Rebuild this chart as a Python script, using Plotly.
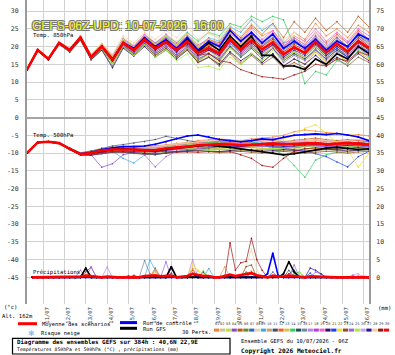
import plotly.graph_objects as go

# ---------------- data ----------------
hours12 = list(range(0, 385, 12))          # temperatures, every 12 h from 10/07 06Z
hours6 = list(range(6, 385, 6))            # precipitation, every 6 h
day_hours = [18 + 24 * d for d in range(16)]
day_labels = ["%02d/07" % (11 + d) for d in range(16)]
left_ticks = list(range(-45, 31, 5))
right_ticks = list(range(0, 76, 5))

pert_colors = ['#f08030', '#d0c0a0', '#b8e040', '#8848c8', '#c05818', '#6a8a20', '#3068b8', '#e8d8b0', '#40a8e8', '#d0a060',
               '#405068', '#f06020', '#e0c040', '#30d060', '#205060', '#7088a0', '#c080f0', '#b040e0', '#f060d0', '#301070',
               '#2040f0', '#f0e020', '#905020', '#a060e0', '#a0f040', '#c0a8f0', '#3010a0', '#f0d0a0', '#a01010', '#e01010']

t850_mean = [13.5,19,16.5,21,19,22.5,17,20, 16.3,21,19,22,19.5,21.3,19,21.5, 18.2,19.5,18,22,19,21.8,19.2,21.2, 17.8,19.8,18.2,21.4,18.3,20.8,18.6,21.6,19.5]
t850_ctrl = [13.5,19,16.5,21,19,22.5,17,20, 16.5,21,19.5,22.5,20,22,19.5,22.5, 19,21.5,20,24.5,21.5,24,21,23.5, 19.5,21.5,19.5,22,19,21.5,20,23.5,22]
t850_gfs = [13.5,19,16.5,21,19,22.5,17,20, 16.3,21,19,22,19.5,21.5,19,22, 18.5,21,19,23,20,23,17.5,17.5, 14.5,14.5,13.5,16.5,15,18,16.5,20,18]
t850_perts = [
    [13.6,19.3,16.8,21.4,19.5,23,17.5,20.8, 17.5,22,20,23.5,21,22.5,20,22.8, 20,22,20.5,25,22,25.5,23,24.5, 21,24,22,26.5,23,25,22.5,26,24],
    [13.4,18.8,16.6,21.2,19.2,22.8,17.3,20.2, 16.8,21.5,19.6,22.6,20.5,22.3,20,22.8, 19.5,21,19.8,24,21,23.5,20.5,22, 18.5,21,19.5,23,19.8,22.5,20,23,21],
    [13.5,19.1,16.4,20.8,18.7,22.1,16.6,19.4, 15.5,20,18,20.5,17.5,19.5,17,19.5, 16,17.5,15.5,19.5,17,19.5,17.5,20, 16.5,18.5,17,20.5,17.5,19.5,17.5,20.5,18.5],
    [13.4,18.9,16.3,20.7,18.5,22,16.4,19.2, 15.6,20.3,18.2,21,18.5,20.5,18.5,21.5, 19,21,20,23.5,21.5,24,21,23.5, 20,22,20,23,20,22.5,20,23,21.5],
    [13.6,19.2,16.7,21.3,19.3,22.9,17.6,20.6, 17,22,20,23,20.5,22.5,20.5,23, 20,22,21,25,22.5,26,23.5,26.5, 22.5,27,24,28,24.5,27,24,28.5,25.5],
    [13.5,18.7,16.2,20.6,18.4,21.8,16.2,19, 14.5,19.8,17.5,20.5,17.5,19.5,17,19.5, 16,18,16.5,20,17.5,20,17.5,19.5, 16,18,16.5,19.5,16.5,19,17,20,18],
    [13.5,19,16.5,21,19.1,22.6,17.2,20.1, 16.5,21.5,19.5,22.5,19,21,18.5,21, 17.5,19,17,21.5,18,21,18.5,20.5, 17,19.5,18,21,18,20,18,21.5,19],
    [13.6,19.2,16.8,21.3,19.4,23,17.8,20.8, 17.5,22.5,20.5,23.5,21,23,21.5,24, 21,23.5,22.5,26.5,24.5,28,25,27.5, 22,24,21,23.5,19.5,22,19,22.5,20],
    [13.5,19.1,16.6,21.2,19.3,22.8,17.4,20.5, 17,22,20,23,20.5,22.8,20.5,23, 20,22.5,21.5,25.5,24,27.5,24.5,26.5, 21,22,19,21.5,18.5,21,18.5,22,19.5],
    [13.4,18.9,16.4,20.9,18.8,22.3,16.8,19.6, 15.8,20.5,18.2,21,18,20,17.5,19.5, 15.5,17,15,18.5,15.5,18,15.5,18, 14.5,16.5,15,18.5,15.5,18,15.5,18.5,16.5],
    [13.5,19,16.5,21.1,19.2,22.7,17.3,20.3, 16.8,21.5,19.5,22.8,20,22,19.5,22.5, 19,20.5,19,23,20,23,20.5,22.5, 19,21,19.5,22.5,19.5,22,20,23,21],
    [13.6,19.1,16.6,21.1,19,22.6,17,20, 16.2,21,19,22,19.5,21.5,19.5,22, 18.5,20.5,19,23,20.5,23.5,21,23.5, 20,22.5,20.5,24,21,23.5,21,24.5,22],
    [13.5,18.9,16.4,20.9,18.9,22.4,16.9,19.8, 16,20.5,18.5,21.5,18.5,20.5,18,20.5, 17,18.5,17,21,18,20.5,18,20, 16.5,18.5,17,20,17,19.5,17.5,20.5,18.5],
    [13.5,19,16.6,21.1,19.2,22.8,17.4,20.5, 17,22,20,23,21,23,21,24, 21.5,24,23,26.5,25.5,28.5,27,28.5, 27.5,20,9.5,13,12,16,15,19,17],
    [13.4,18.8,16.3,20.8,18.6,22.1,16.5,19.4, 15.3,20.2,18,21,18,20,17.5,20, 16.5,18,16,20,17,19.5,16.5,19.5, 16,18,16.5,19,16.5,19,17,20,18],
    [13.5,19,16.6,21.1,19.1,22.6,17.2,20.2, 16.7,21.4,19.4,22.5,19.5,21.5,19,22, 18.5,20,18.5,22.5,19.5,22.5,20,22.5, 19,21.5,19.5,22.5,19.5,22,20,23,20.5],
    [13.6,19.1,16.7,21.2,19.3,22.8,17.5,20.5, 16.8,21.8,19.8,23,20.5,22.5,20,23, 19.5,21.5,20,24,21,24,21.5,24, 20,22.5,20.5,24,20.5,23,21,24,22],
    [13.5,18.9,16.4,20.9,18.8,22.3,16.9,19.7, 15.8,20.5,18.5,21.5,18.5,20.5,18,20.5, 17,19,17.5,21,18,20.5,18,20.5, 16.5,18.5,17,20,17,19.5,17.5,20.5,18.5],
    [13.6,19.2,16.7,21.3,19.4,22.9,17.6,20.6, 17.2,22.2,20.2,23.3,21,23.5,21,23.5, 20.5,22,20.5,24.5,21.5,25,22,24.5, 20.5,23,21.5,25,21.5,24,21.5,25,23],
    [13.4,18.8,16.3,20.7,18.5,21.9,16.3,19, 14,19.5,17.3,20,17,19,16.5,19, 15.5,17,15,18.5,16,18,15.5,18, 14.5,16.5,15,17.5,15,17,15.5,18,16],
    [13.5,19,16.5,21,19,22.5,17.1,20, 16.3,21,19,22,19.5,21.5,19,21.5, 18,19.5,18,22,19,21.5,19,21, 17.5,19.5,18,21,17.5,19.5,17,20,18.5],
    [13.6,19.2,16.7,21.2,19.3,22.8,17.4,20.5, 17,22,20,23,20.5,23,20.5,23.5, 20,22,20,24,20.5,23,19.5,21.5, 17,18.5,16,18.5,15.5,18,15.5,18.5,16.5],
    [13.4,18.8,16.3,20.7,18.6,22,16.5,19.3, 15.4,20,17.6,20.5,17.5,19.5,17,19, 15.5,17,14.5,18,15,17.5,15,17, 14,15.5,14,16.5,14.5,16.5,14.5,17,15.5],
    [13.5,18.9,16.4,20.8,18.7,22.2,16.7,19.5, 15.5,20.3,18.2,21.2,18,20,17.5,20, 16.5,18,16.5,20.5,17.5,20,17,19.5, 15.5,17.5,16,19,16,18.5,16.5,19.5,17.5],
    [13.5,18.9,16.4,20.8,18.7,22.2,16.6,19.4, 15.3,20,17.5,20.5,17,19,16,18, 14,14.5,13.5,17,15,18,16,19, 16,18.5,17,20,17.5,20,18,21,19],
    [13.5,19,16.6,21.1,19.2,22.7,17.3,20.3, 16.8,21.6,19.5,22.6,20,22,19.5,22.5, 19,21,19,23,20,23,20.5,23, 19,21.5,19.5,22.5,19.5,22,19.5,22.5,20.5],
    [13.5,18.9,16.4,20.9,18.8,22.4,16.9,19.8, 16,20.7,18.6,21.6,19,21,18.5,21, 17.5,19,17.5,21.5,18.5,21,18.5,20.5, 17,19,17.5,20.5,17.5,20,18,21,19],
    [13.6,19.2,16.8,21.4,19.5,23.1,17.8,21, 17.8,23,21,24,22,24.5,22.5,25.5, 22,24,22,26,23,26.5,23.5,26, 21.5,23,21,24,20,23,20.5,23.5,21],
    [13.5,19,16.5,21,19,22.4,17,19.8, 16,20.8,18.8,21.5,19,21,19,20.5, 17.5,18,16,15.5,13.5,12.5,11.5,11.2, 10.8,12,13,15,14.5,16.5,16,18.5,17.5],
    [13.5,19,16.6,21.1,19.1,22.6,17.2,20.2, 16.6,21.3,19.3,22.3,20,21.8,19.5,22, 18.8,20,18.5,22.5,19.5,22.5,20,22, 18.5,20.5,19,22,19,21.5,19.5,22.5,20],
]

t500_mean = [-10,-7,-6.8,-7.2,-8.8,-10.3,-10,-9.3, -9,-8.9,-9,-9.2,-9.2,-8.7,-8.5,-8.2, -7.8,-7.6,-7.5,-7.6,-7.8,-7.7,-7.5,-7.3, -7.6,-7.5,-7.4,-7.2,-7.5,-7.3,-7.2,-7.4,-7.6]
t500_ctrl = [-10,-7,-6.8,-7.2,-8.8,-10.2,-9.8,-9, -8.5,-8.2,-8.2,-8,-7.5,-6.8,-6,-5.2, -4.9,-5.5,-6.2,-6.5,-6.8,-6.5,-6,-6.2, -5.5,-5,-4.8,-4.6,-4.8,-4.5,-4.9,-5.5,-6.5]
t500_gfs = [-10,-7,-6.8,-7.2,-8.8,-10.3,-10,-9.4, -9,-8.8,-9,-9.2,-9.4,-9,-8.6,-8.3, -8,-7.8,-8,-8.4,-8.8,-9.2,-9.5,-10, -10.5,-10.2,-9.6,-9,-8.6,-8.4,-8.8,-9,-8.8]
t500_perts = [
    [-10,-7,-6.8,-7.1,-8.7,-10.2,-9.8,-9, -8.5,-8.2,-8,-8.3,-8,-7.5,-7.2,-7, -6.5,-6.2,-6,-6.3,-6.5,-6,-5.8,-5.5, -5,-4,-3.5,-3.8,-4.2,-4.5,-5,-4.8,-5.2],
    [-10.1,-7.1,-6.9,-7.3,-8.9,-10.4,-10.3,-9.7, -9.4,-9.2,-9.5,-9.8,-9.6,-9.2,-9,-8.5, -8.2,-8,-8.3,-8.5,-8.2,-7.8,-7.5,-7.8, -8.2,-8,-7.6,-7.3,-7.8,-8,-7.5,-7.2,-7.6],
    [-9.9,-6.9,-6.7,-7.1,-8.6,-10,-9.5,-8.8, -8.3,-8,-8.2,-8.5,-8.8,-8.5,-8.8,-9, -9.2,-9,-8.6,-8.8,-9.2,-9.5,-9,-8.6, -8.8,-9.1,-8.8,-8.5,-8.7,-8.3,-8,-8.4,-8.8],
    [-10,-7,-6.8,-7.2,-8.9,-10.5,-10.5,-14, -13,-10.5,-9.8,-9.5,-9,-8.5,-8.3,-8, -7.5,-7.2,-7,-7.3,-7.8,-8,-7.6,-7.2, -7,-6.8,-7,-7.3,-7.5,-7,-6.8,-7.2,-7.5],
    [-10,-7,-6.7,-7.1,-8.7,-10.1,-9.7,-8.9, -8.6,-8.5,-8.4,-8.6,-8.5,-8.1,-7.6,-7.2, -6.8,-6.6,-6.9,-7,-6.8,-6.5,-6.2,-6.5, -6.8,-6.4,-6,-5.8,-6.2,-6.5,-6.2,-6.5,-6.8],
    [-10,-7.1,-6.9,-7.3,-9,-10.5,-10.6,-10, -9.6,-9.5,-9.8,-10,-10.2,-9.8,-9.5,-9.4, -9,-8.8,-9,-9.3,-9.5,-9.2,-8.8,-9, -9.4,-9.2,-8.8,-8.6,-9,-9.2,-8.8,-8.6,-9],
    [-10,-7,-6.8,-7.2,-8.8,-10.3,-10,-9.4, -8.8,-8.4,-8.6,-8.9,-9,-8.6,-8.2,-7.8, -7.5,-7.2,-7.5,-7.8,-8.2,-8,-7.6,-7.2, -7.5,-7.8,-8,-7.6,-7.4,-7.8,-8,-7.6,-7.4],
    [-10,-7,-6.8,-7.1,-8.7,-10.2,-9.9,-9.2, -8.7,-8.5,-8.7,-8.8,-8.6,-8,-7.5,-7.2, -6.8,-6.5,-6.3,-6.5,-6.8,-7,-7.5,-8, -8.6,-9,-9.3,-9.5,-9,-8.8,-9.2,-9.5,-9.3],
    [-10,-7,-6.8,-7.2,-8.8,-10.2,-10,-9.6, -9.5,-11.5,-12.8,-10.5,-9.8,-9.3,-9,-8.5, -8,-7.8,-7.6,-7.5,-7.3,-7,-7.2,-7.6, -8,-8.4,-8.2,-7.8,-7.5,-7.8,-8.2,-8,-7.8],
    [-10,-7,-6.8,-7.2,-8.8,-10.4,-10.4,-9.8, -9.4,-9.5,-9.8,-9.6,-9.3,-9.1,-9,-8.8, -8.6,-8.5,-8.8,-9,-9.4,-9.6,-9.2,-8.9, -9.2,-9.5,-9.8,-9.4,-9,-9.3,-9.6,-9.2,-9],
    [-10,-7,-6.8,-7.1,-8.6,-9.9,-9.4,-8.6, -8,-7.6,-7.2,-6.8,-6.2,-5.3,-5.8,-6.5, -7,-7.2,-7,-7.3,-7.6,-7.4,-7.2,-7, -7.3,-7.5,-7.2,-7,-7.3,-7.6,-7.3,-7,-7.3],
    [-10,-7,-6.8,-7.2,-8.8,-10.3,-10.1,-9.3, -8.9,-8.7,-8.8,-8.8,-8.6,-8.2,-7.8,-7.6, -7.2,-7,-6.8,-7,-7.2,-6.9,-6.6,-6.4, -6.8,-7,-6.8,-6.5,-6.8,-7,-6.7,-6.5,-6.8],
    [-10,-7,-6.8,-7.2,-8.9,-10.4,-10.2,-9.6, -9.3,-9.3,-9.5,-9.6,-9.4,-9,-8.7,-8.4, -8.2,-8.4,-8.6,-8.4,-8.2,-8.5,-8.8,-8.6, -8.4,-8.7,-9,-8.8,-8.5,-8.8,-9,-8.7,-8.5],
    [-10,-7,-6.8,-7.2,-8.8,-10.3,-10,-9.4, -9,-8.8,-8.8,-8.7,-8.5,-8.1,-7.8,-7.5, -7.2,-7,-6.8,-6.6,-6.5,-6.8,-7.5,-8.8, -10.5,-13.5,-16.8,-12,-10.5,-9.8,-9.5,-9.2,-9],
    [-10,-7.1,-6.9,-7.3,-9,-10.5,-10.5,-9.9, -9.6,-9.6,-9.9,-10.2,-10.5,-10,-9.6,-9.2, -8.8,-8.5,-8.2,-8.4,-8.6,-8.3,-8,-8.2, -8.5,-8.3,-8,-7.8,-8.2,-8.5,-8.2,-8,-8.3],
    [-10,-7,-6.8,-7.2,-8.8,-10.2,-9.9,-9.2, -8.8,-8.6,-8.6,-8.8,-8.9,-8.5,-8.2,-7.9, -7.5,-7.3,-7.4,-7.6,-7.4,-7.2,-7.4,-7.7, -7.5,-7.2,-7,-7.2,-7.5,-7.2,-7,-7.2,-7.5],
    [-10,-7,-6.8,-7.2,-8.8,-10.2,-10,-9.3, -8.9,-8.7,-8.8,-9.2,-9.4,-9,-8.6,-8.3, -7.8,-7.5,-7.2,-7.4,-7.8,-8,-7.8,-7.5, -7.3,-7.6,-7.9,-8.2,-8,-7.6,-7.4,-7.7,-8],
    [-10,-7,-6.8,-7.2,-8.9,-10.4,-10.2,-9.7, -9.5,-9.4,-9.3,-9.5,-9.7,-9.3,-9,-8.7, -8.5,-8.3,-8,-8.2,-8.5,-8.3,-8,-7.7, -8,-8.3,-8.1,-7.8,-8,-8.3,-8,-7.7,-8],
    [-10,-7,-6.8,-7.1,-8.7,-10.1,-9.8,-9.1, -8.7,-8.5,-8.6,-8.5,-8.3,-8,-7.7,-7.4, -7,-6.7,-6.5,-6.8,-7,-6.7,-6.4,-6.6, -6.9,-6.7,-6.4,-6.2,-6.5,-6.8,-6.5,-6.2,-6.5],
    [-10,-7.1,-6.9,-7.3,-9,-10.5,-10.6,-10.2, -9.8,-9.8,-10,-10.3,-10.3,-10,-9.7,-9.5, -9.2,-9.4,-9.6,-9.3,-9,-9.2,-9.5,-9.3, -9,-9.2,-9.5,-9.2,-8.9,-9.1,-9.4,-9.2,-9],
    [-10,-7,-6.8,-7.2,-8.8,-10.3,-10,-9.3, -8.9,-8.7,-8.9,-9,-9,-8.6,-8.4,-8, -7.7,-7.5,-7.7,-8,-8.2,-8,-7.8,-8.2, -8.6,-9,-9.5,-10.2,-11,-12.5,-13.9,-11,-9.5],
    [-10,-7,-6.8,-7.2,-8.8,-10.2,-9.9,-9.2, -8.8,-8.6,-8.7,-8.9,-8.8,-8.4,-8,-7.8, -7.5,-7.3,-7.2,-7.4,-7.8,-8.2,-8,-7, -6,-5,-3,-2,-4.5,-7,-9,-14,-10],
    [-10,-7.1,-6.9,-7.3,-9,-10.5,-10.5,-10, -9.7,-9.8,-10.1,-10.4,-10.2,-9.9,-9.8,-9.6, -9.4,-9.6,-9.9,-9.7,-9.5,-9.8,-10,-9.7, -9.5,-9.8,-10,-9.8,-9.5,-9.7,-10,-9.7,-9.5],
    [-10,-7,-6.8,-7.2,-8.9,-10.4,-10.3,-9.8, -9.5,-9.4,-9.6,-10.5,-13.9,-11,-9.5,-9, -8.6,-8.4,-8.2,-8.4,-8.6,-8.4,-8.1,-8.3, -8.6,-8.4,-8.2,-8,-8.3,-8.5,-8.2,-8,-8.2],
    [-10,-7,-6.8,-7.2,-8.8,-10.3,-10.1,-9.5, -9.2,-9,-9.1,-9.3,-9.1,-8.7,-8.4,-8.6, -9,-9.3,-9.1,-8.8,-8.5,-8.3,-8.5,-8.8, -8.6,-8.3,-8,-8.3,-8.6,-8.4,-8.1,-8.3,-8.6],
    [-10,-7,-6.8,-7.2,-8.8,-10.2,-9.9,-9.3, -8.9,-8.7,-8.7,-8.9,-8.8,-8.4,-8.1,-7.8, -7.6,-7.4,-7.6,-7.8,-7.6,-7.4,-7.2,-7.4, -7.7,-7.5,-7.3,-7.5,-7.8,-7.6,-7.3,-7.5,-7.8],
    [-10,-7,-6.8,-7.2,-8.8,-10.3,-10.1,-9.5, -9.1,-8.9,-9,-9.2,-9.1,-8.8,-8.5,-8.3, -8,-7.8,-8,-8.3,-8.1,-7.8,-7.6,-7.9, -8.2,-8,-7.7,-7.5,-7.8,-8.1,-7.8,-7.6,-7.9],
    [-10,-7,-6.8,-7.1,-8.7,-10.1,-9.8,-9, -8.6,-8.3,-8.3,-8.5,-8.3,-7.9,-7.5,-7.2, -6.9,-6.6,-6.4,-6.2,-6.5,-6.8,-6.6,-6.3, -6.5,-6.8,-6.6,-6.3,-6.5,-6.8,-6.5,-6.2,-6.5],
    [-10,-7,-6.8,-7.2,-8.9,-10.4,-10.3,-9.8, -9.5,-9.5,-9.6,-9.8,-9.7,-9.5,-9.6,-9.7, -9.8,-9.6,-9.5,-9.6,-10.5,-11.5,-13.5,-14, -11.5,-9.5,-8.8,-8.5,-8.8,-9,-8.6,-8.4,-8.7],
    [-10,-7,-6.8,-7.2,-8.8,-10.2,-10,-9.4, -9,-8.8,-8.9,-9,-9,-8.6,-8.3,-8, -7.7,-7.5,-7.3,-7.5,-7.7,-7.5,-7.3,-7.1, -7.3,-7.5,-7.3,-7.1,-7.3,-7.5,-7.3,-7.1,-7.3],
]

# precipitation (mm per 6 h), 64 steps
precip_mean = [0,0,0,0,0,0,0,0, 0,0.2,0.5,0.3,0,0,0.2,0, 0,0,0,0,0,0.4,0.5,0.6, 0.3,0.4,0.5,0,0.3,0.4,1.0,0.6,
               0.4,0.4,0,0,0.4,0.8,0.4,0.6, 0.8,1.2,0.6,0.3,0,0.5,0.2,0.3, 0.5,0.4,0.2,0,0.3,0.2,0.1,0, 0,0,0,0,0.1,0.2,0,0]
precip_ctrl = [0,0,0,0,0,0,0,0, 0,0,0,0,0,0,0,0, 0,0,0,0,0,0,0,0, 0,0,0,0,0,0,1,0,
               0,0,0,0,0,0,0,0, 0,0,0,0,1,6.8,0.5,0, 0,0,0,0,0,0,0,0, 0,0,0,0,0,0,0,0]
precip_gfs = [0,0,0,0,0,0,0,0, 0,0,2.6,0,0,0,0,0, 0,0,0,0,0,0,0,0, 0,0,3,0,0,0,0,0,
              0,0,0,0,0,0,0,0, 0,0,0,0,0,0,0,1, 4.4,1.5,0,0,0,0,0,0, 0,0,0,0,0,0,0,0]
precip_perts = [
    [0,0,0,0,0,0,0,0, 0,0,0,0,0,0,0,0, 0,0,0,0,0,0,0,0, 0,0,0,0,0,0,2.5,0, 0,0,0,0,0,0,0,0, 0,0,0,0,0,0,0,0, 0,0,0,0,0,0,0,0, 0,0,0,0,0,0,0,0],
    [0,0,0,0,0,0,0,0, 0,0,0,0,0,0,0,0, 0,0,0,0,0,0,0,0.8, 0,0,0,0,0,0,0,0, 0,0,0,0,0,0,0,0, 0,0,0,0,0,0,0,0, 0,0,0,0,0,0,0,0, 0,0,0,0,0,0,0,0],
    [0,0,0,0,0,0,0,0, 0,0,0,0,0,0,0,0, 0,0,0,0,0,0,0,0, 0,0,0,0,0,0,0,1.8, 0,0,0,0,0,0,0,0, 0,0,0,0,0,0,0,0, 0,0,1.2,0,0,0,0,0, 0,0,0,0,0,0,0,0],
    [0,0,0,0,0,0,0,0, 0,0,1.5,2.9,0,0,0,0, 0,0,0,0,0,0,0,0, 0,0,0,0,0,0,0,0, 0,0,0,0,0,0,0,0, 0,0,0,0,0,0,0,0, 0,0,0,0,0,0,0,0, 0,0,0,0,0,0,0,0],
    [0,0,0,0,0,0,0,0, 0,0,0,0,0,0,0,0, 0,0,0,0,0,0,0,2.6, 0,0,0,0,0,0,2,0, 0,0,0,0,0,0,0,0, 0,0,0,0,0,0,0,0, 0,0,0,0,0,0,0,0, 0,0,0,0,0,0,0,0],
    [0,0,0,0,0,0,0,0, 0,0,0,0,0,0,0,0, 0,0,0,0,0,0,0,0, 0,0,0,0,0,0,0,0, 0,0,0,0,0,0,0,0, 1.5,1,0,0,0,0,0,0, 0,0,0,0,0,0,0,0, 0,0,0,0,0,0,0,0],
    [0,0,0,0,0,0,0,0, 0,0,0,0,0,0,0,0, 0,0,0.5,0,0,0,0,0, 0,0,0,0,0,0,0,0, 0,0,0,0,0,0,0,0, 0,0,0,0,0,1.5,0,0, 0,0,0,0,0,0,0,0, 0,0,0,0,0,0,0,0],
    [0,0,0,0,0,0,0,0, 0,0,0,0,0,0,0,0, 0,0,0,0,0,0,0,0, 0,0,0,0,0,0,0,0, 0,0,0,0,0,0,0,0, 3,8,2,0,0,0,0,0, 0,0,0,0,0,0,0,0, 0,0,0,0,0,0,0,0],
    [0,0,0,0,0,0,0,0, 0,0,0,0,0,0,0,0, 0,0,0,0,0,0,4.9,2, 0,0,0,0,0,0,0,0, 0,2.5,0,0,0,0,0,0, 0,0,0,0,0,0,0,0, 0,0,0,0,0,0,0,0, 0,0,0,0,0,0,0,0],
    [0,0,0,0,0,0,0,0, 0,0,0,0,0,0,0,0, 0,0,0,0,0,0,0,2, 0,0,0,0,0,0,0,0, 0,0,0,0,3,0,0,0, 0,0,0,0,0,0,0,0, 0,0,0,0,0,0,0,0, 0,0,0,0,0,0,0,0],
    [0,0,0,0,0,0,0,0, 0,0,0,0,0,0,0,0, 0,0,0,0,0,0,0,0, 0,0,1.2,0,0,0,0,0, 0,0,0,0,0,0,0,0, 0,0,0,0,0,0,0,0, 2,0,0,0,0,0,0,0, 0,0,0,0,0,0,0,0],
    [0,0,0,0,0,0,0,0, 0,0,0,0,0,0,0,0, 0,0,0,0,0,0,0,0, 0,0,0,0,0,0,0,0, 0,0,0,0,0,0,0,0, 0,1.5,0,0,0,0,0,0, 0,0,0,0,0,0,0,0, 0,0,0,0,0,0,0,0],
    [0,0,0,0,0,0,0,0, 0,0,0,0,0,0,0,0, 0,0,0,0,0,0,0,1.5, 0,0,0,0,0,0,0,0, 0,0,0,0,0,0,0,0, 0,0,0,0,0,0,0,0, 0,0,0,0,0,0,0,0, 0,0,0,0,0,0.6,0.5,0],
    [0,0,0,0,0,0,0,0, 0,0,0,0,0,0,0,0, 0,0,0,0,0,0,0,0, 0,0,0,0,0,0,0,0, 1.5,0,0,0,0,0,0,0, 0,0,0,0,0,0,0,0, 0,1,1.5,0,0,0,0,0, 0,0,0,0,0,0,0,0],
    [0,0,0,0,0,0,0,0, 0,0,0,0,0,0,0,0, 0,0,0,0,0,0,0,0, 0,0,0,0,0,0,0,0, 0,0,0,0,0,0,0,0, 0,0,0,0,0,0,0,0, 1,2,0,0,0,0,0,0, 0,0,0,0,0,0,0,0],
    [0,0,0,0,0,0,0,0, 0,0,0,0,0,0,0,0, 0,0,0,0,0,4.7,1,0, 0,0,0,0,0,0,0,0, 0,0,0,0,0,0,0,0, 0,0,0,0,0,0,0,0, 0,0,0,0,0,0,0,0, 0,0,0,0,0,0,0,0],
    [0,0,0,0,0,0,0,0, 0,0,0,0,0,0,2.9,0, 0,0,0,0,0,0,0,0, 0,0,0,0,0,0,5,0, 0,0,0,0,0,0,0,0, 0,0,0,0,0,0,0,0, 0,0,0,0,0,0,0,0, 0,0,0,0,0,0,0,0],
    [0,0,0,0,0,0,0,0, 0,0,0,0,0,0,0,0, 0,0,0,0,0,0,0,0, 0,0,0,0,0,0,0,0, 0,0,0,0,0,0,0,0, 0,0,0,0,0,0,0,0, 0,0,0,0,0,0,0,0, 0,0,0,0,0.5,0,0,0],
    [0,0,0,0,0,0,0,0, 0,0,0,0,0,0,0,0, 0,0,0,0,0,0,0,0, 0,0,0,0,0,0,1.2,0, 0,0,0,0,0,0,0,0, 0,0,0,0,0,0,0,0, 0,0,0,0,0,0,0,0, 0,0,0,0,0,0,0,0],
    [0,0,0,0,0,0,0,0, 0,0,2.4,0,0,0,0,0, 0,0,0,0,0,0,0,0, 0,0,2.5,0,0,0,0,0, 0,0,0,0,0,0,0,0, 0,0,0,0,0,0,0,0, 0,0,0,0,0,0,0,0, 0,0,0,0,0,0,0,0],
    [0,0,0,0,0,0,0,0, 0,0,0,0,0,0,0,0, 0,0,0,0,0,0,0,0, 0,0,0,0,0,0,0,0, 1.5,0,0,0,0,0,0,0, 0,0,0,0,0,0,0,0, 0,0,0,0,1.2,0,0,0, 0,0,0,0,0,0,0,0],
    [0,0,0,0,0,0,0,0, 0,0,1,0,0,0,0,0, 0,0,0,0,0,0,0,0, 0,0,0,0,0,0,3.5,2, 1,0,0,0,0,0,0,0, 0,0,0,0,0,0,0,0, 0,0,0,0,0,0,0,0, 0,0,0,0,0,0,0,0],
    [0,0,0,0,0,0,0,0, 0,0,0,0,0,0,0,0, 0,0,0,0,0,0,0,0, 0,0,0,0,0,0,0,0, 0,0,0,0,0,0,0,0, 3,3.5,0,0,0,0,0,0, 0,0,0,0,0,0,0,0, 0,0,0,0,0,0,0,0],
    [0,0,0,0,0,0,0,0, 0,2,0,2.9,0,0,0,0, 0,0,0,0,0,0,0,0, 0,4.4,0,0,0,0,0,0, 0,0,0,0,0,0,0,0, 0,0,0,0,0,0,0,0, 0,3.5,0,0,0,1.5,1,0, 0,0,0,0,0,0,0,0],
    [0,0,0,0,0,0,0,0, 0,0,0,0,0,0,0,0, 0,0,0,0,0,0,0,0, 0,0,0,0,0,0,0,0, 2,0,0,0,0,0,0,0, 0,0,0,0,0,0,0,0, 0,0,1.5,0,0,0,0,0, 0,0,0,0,0,0,0,0],
    [0,0,0,0,0,0,0,0, 0,0,0,0,0,0,0,0, 0,0,0,0,0,0,0,0, 0,0,0,0,0,0,0,0, 0,0,0,0,0,0,0,0, 0,0,0,0,0,0,0,0, 0,0,0,0,0,0,0,0, 0,0,0,0,0.8,1,0,0],
    [0,0,0,0,0,0,0,0, 0,0,0,0,0,0,0,0, 0,0,0,0,0,0,0,0, 0,0,0,0,0,0,0,0, 0,0,0,0,0,0,0,0, 0,0,0,0,0,0,0,0, 0,0,0,0,2.6,2,1,0, 0,0,0,0,0,0,0,0],
    [0,0,0,0,0,0,0,0, 0,0,0,0,0,0,0,0, 0,0,0,0,0,0,0,0, 0,0,0,0,0,0,1.5,0, 0,0,0,0,0,0,0,0, 0,2,0,0,0,0,0,0, 0,0,0,0,0,0,0,0, 0,0,0,0,0,0,0,0],
    [0,0,0,0,0,0,0,0, 0,0,0,0,0,0,0,0, 0,0,0,0,0,0,0,0, 0,0,0,0,0,0,0,0, 0,0,0,0,0,9.7,2,4.1, 4.5,11,5,2,0,0,0,0, 0,0,0,0,0,0,0,0, 0,0,0,0,0,0,0,0],
    [0,0,0,0,0,0,0,0, 0,0,0,0,0,0,0,0, 0,0,0,0.6,0,0,0,0, 0,0,0,0,0,0,0,0, 0,0,0,0,0,0,0,0, 0,1.5,0,0,0,0,0,0, 0,0,0,0,0,0,0,0, 0,0,0,0,0,0,0,0],
]

# ---------------- layout helpers (pixel -> paper) ----------------
W, H = 395, 355
ML, MR, MT, MB = 27, 26, 0, 51
PW, PH = W - ML - MR, H - MT - MB


def fx(p):
    return (p - ML) / PW


def fy(p):
    return (MT + PH - p) / PH


fig = go.Figure()


def add_series(x, y, color, width, axis, msize):
    fig.add_trace(go.Scatter(
        x=x[:len(y)], y=y, yaxis=axis, mode='lines+markers' if msize else 'lines',
        line=dict(color=color, width=width),
        marker=dict(size=msize, color=color, line=dict(width=0)),
        hoverinfo='skip', showlegend=False))


for i in range(30):
    add_series(hours6, precip_perts[i], pert_colors[i], 0.7, 'y2', 1.6)
for i in range(30):
    add_series(hours12, t500_perts[i], pert_colors[i], 0.7, 'y', 1.6)
for i in range(30):
    add_series(hours12, t850_perts[i], pert_colors[i], 0.7, 'y', 1.6)

add_series(hours6, precip_ctrl, '#0000ff', 1.6, 'y2', 2)
add_series(hours6, precip_gfs, '#000000', 1.6, 'y2', 2)
add_series(hours12, t500_ctrl, '#0000ff', 1.6, 'y', 2)
add_series(hours12, t500_gfs, '#000000', 1.6, 'y', 2)
add_series(hours12, t850_ctrl, '#0000ff', 1.6, 'y', 2)
add_series(hours12, t850_gfs, '#000000', 1.6, 'y', 2)
add_series(hours6, precip_mean, '#ff0000', 2.6, 'y2', 0)
add_series(hours12, t500_mean, '#ff0000', 2.6, 'y', 0)
add_series(hours12, t850_mean, '#ff0000', 2.6, 'y', 0)

tickfont = dict(family='DejaVu Sans Mono', size=6.5, color='#333333')
fig.update_layout(
    width=W, height=H, margin=dict(l=ML, r=MR, t=MT, b=MB, autoexpand=False),
    paper_bgcolor='white', plot_bgcolor='white', showlegend=False,
    xaxis=dict(range=[0, 384], tickvals=day_hours, ticktext=day_labels, tickangle=-90,
               showgrid=True, gridcolor='#d2d2d2', gridwidth=1, zeroline=False, showline=False,
               ticks='', tickfont=dict(family='DejaVu Sans Mono', size=5.5, color='#333333'),
               ticklabelshift=4, ticklabelstandoff=1, fixedrange=True),
    yaxis=dict(range=[-52.5, 33.1], tickvals=left_ticks, ticktext=[str(v) for v in left_ticks],
               showgrid=True, gridcolor='#d2d2d2', gridwidth=1,
               zeroline=True, zerolinecolor='#a6a6a6', zerolinewidth=2,
               showline=True, linecolor='#9a9a9a', linewidth=2, ticks='', tickfont=tickfont,
               ticklabelstandoff=5, fixedrange=True),
    yaxis2=dict(range=[-7.5, 78.1], overlaying='y', side='right', tickvals=right_ticks,
                ticktext=[str(v) for v in right_ticks], showgrid=False, zeroline=False,
                showline=True, linecolor='#9a9a9a', linewidth=2, ticks='', tickfont=tickfont,
                ticklabelstandoff=4, fixedrange=True),
)

shapes = []
annotations = []


def text(px_, py_, s, size=5.4, color='#000000', family='DejaVu Sans Mono', bold=False, anchor='left'):
    annotations.append(dict(x=fx(px_), y=fy(py_), xref='paper', yref='paper', text=s, showarrow=False,
                            xanchor=anchor, yanchor='middle', borderpad=0,
                            font=dict(family=family, size=size, color=color,
                                      weight='bold' if bold else 'normal')))


# title
annotations.append(dict(x=fx(30), y=fy(25.5), xref='paper', yref='paper', showarrow=False,
                        text='GEFS-06Z-UPD: 10-07-2026  16:00', xanchor='left', yanchor='middle',
                        font=dict(family='Liberation Sans', size=12, color='#f4f422',
                                  shadow='-1px -1px 0 #777, 1px -1px 0 #777, -1px 1px 0 #777, 1px 1px 0 #777')))
text(32, 35.5, 'Temp. 850hPa', 5.6)
text(32, 136, 'Temp. 500hPa', 5.6)
text(32, 272, 'Précipitations', 5.6)
text(3, 307, '(°c)', 5.6)
text(377, 308, '(mm)', 5.6)
text(1, 316, 'Alt. 162m', 5.6)

# legend
shapes.append(dict(type='line', xref='paper', yref='paper', x0=fx(18), x1=fx(37), y0=fy(323.7), y1=fy(323.7),
                   line=dict(color='#ff0000', width=3)))
text(41, 324, 'Moyenne des scénarios', 5.4)
shapes.append(dict(type='line', xref='paper', yref='paper', x0=fx(120), x1=fx(137), y0=fy(322.6), y1=fy(322.6),
                   line=dict(color='#0000ff', width=3)))
shapes.append(dict(type='line', xref='paper', yref='paper', x0=fx(120), x1=fx(137), y0=fy(328.3), y1=fy(328.3),
                   line=dict(color='#000000', width=3)))
text(142, 323, 'Run de contrôle', 5.4)
text(142, 328.5, 'Run GFS', 5.4)
text(181, 331.5, '30 Perts.', 5.4)
text(27, 333.5, '❄', 8, '#5aa8f0', 'DejaVu Sans')
text(40, 333.8, 'Risque neige', 5.4)

for i, c in enumerate(pert_colors):
    x0 = 214 + 5.86 * i
    shapes.append(dict(type='rect', xref='paper', yref='paper', x0=fx(x0), x1=fx(x0 + 5.2),
                       y0=fy(331.6), y1=fy(328.6), line=dict(width=0), fillcolor=c))
    text(x0 + 2.6, 323.5, '%02d' % (i + 1), 3.6, '#333333', anchor='center')

# info box
shapes.append(dict(type='rect', xref='paper', yref='paper', x0=fx(12.5), x1=fx(230), y0=fy(354), y1=fy(338.3),
                   line=dict(color='#000000', width=1.2), fillcolor='white'))
text(16, 342.8, 'Diagramme des ensembles GEFS sur 384h : 40,6N 22,9E', 5.9, bold=True)
text(16, 349.5, 'Températures 850hPa et 500hPa (°C) , précipitations (mm)', 4.8)
text(240, 340.5, 'Ensemble GEFS du 10/07/2026 - 06Z', 5.4)
text(240, 351, 'Copyright 2026 Meteociel.fr', 6.2, bold=True)

fig.update_layout(shapes=shapes, annotations=annotations)
fig.write_html('out.html')
